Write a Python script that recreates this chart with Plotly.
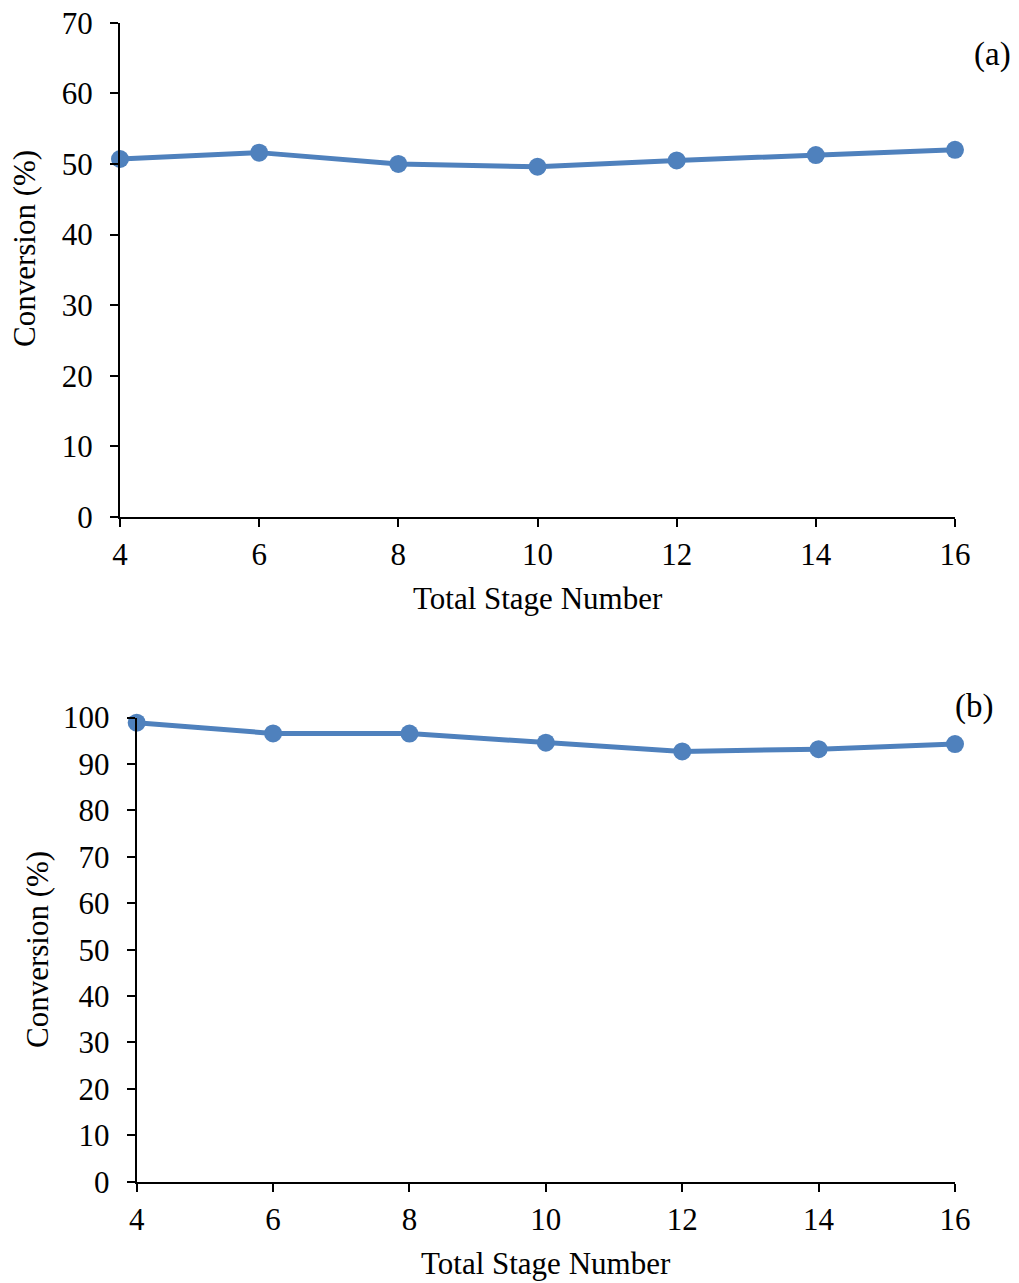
import plotly.graph_objects as go

# Total stage number vs. conversion for two cases
stages = [4, 6, 8, 10, 12, 14, 16]
conv_a = [50.7, 51.6, 50.0, 49.6, 50.5, 51.25, 52.0]
conv_b = [98.9, 96.6, 96.55, 94.6, 92.7, 93.2, 94.3]

W, H = 1019, 1283
LINE = "#4F81BD"
FONT = "Liberation Serif, Times New Roman, serif"
FS = 31

def px_x(p):
    return p / W

def px_y(p):
    return 1 - p / H

fig = go.Figure()
fig.add_trace(go.Scatter(x=stages, y=conv_a, mode="lines+markers",
                         line=dict(color=LINE, width=5),
                         marker=dict(color=LINE, size=18),
                         xaxis="x", yaxis="y", showlegend=False, cliponaxis=False))
fig.add_trace(go.Scatter(x=stages, y=conv_b, mode="lines+markers",
                         line=dict(color=LINE, width=5),
                         marker=dict(color=LINE, size=18),
                         xaxis="x2", yaxis="y2", showlegend=False, cliponaxis=False))

axis_common = dict(showgrid=False, zeroline=False, showline=True, automargin=False,
                   linecolor="black", linewidth=2, ticks="outside",
                   ticklen=8, tickwidth=2, tickcolor="black",
                   tickfont=dict(family=FONT, size=FS, color="black"))

fig.update_layout(
    width=W, height=H,
    margin=dict(l=0, r=0, t=0, b=0),
    paper_bgcolor="white", plot_bgcolor="white",
    xaxis=dict(domain=[px_x(120), px_x(955)], range=[4, 16], tickvals=stages,
               anchor="y", ticklabelstandoff=1, **axis_common),
    yaxis=dict(domain=[px_y(517), px_y(22.7)], range=[0, 70], dtick=10,
               anchor="x", ticklabelstandoff=11, **axis_common),
    xaxis2=dict(domain=[px_x(136.7), px_x(955)], range=[4, 16], tickvals=stages,
                anchor="y2", ticklabelstandoff=1, **axis_common),
    yaxis2=dict(domain=[px_y(1181.7), px_y(717.6)], range=[0, 100], dtick=10,
                anchor="x2", ticklabelstandoff=11, **axis_common),
)

title_font = dict(family=FONT, size=FS, color="black")
panel_font = dict(family=FONT, size=33, color="black")
annotations = [
    dict(text="Total Stage Number", x=px_x(538), y=px_y(598), font=title_font),
    dict(text="Total Stage Number", x=px_x(546), y=px_y(1263), font=title_font),
    dict(text="Conversion (%)", x=px_x(25), y=px_y(249), textangle=-90, font=title_font),
    dict(text="Conversion (%)", x=px_x(37), y=px_y(950), textangle=-90, font=title_font),
    dict(text="(a)", x=px_x(992), y=px_y(55), font=panel_font),
    dict(text="(b)", x=px_x(974), y=px_y(706), font=panel_font),
]
for a in annotations:
    fig.add_annotation(xref="paper", yref="paper", showarrow=False,
                       xanchor="center", yanchor="middle", **a)

fig.write_html(
    "out.html",
    post_script="document.body.style.margin='0';"
                "document.documentElement.style.overflow='hidden';",
)
